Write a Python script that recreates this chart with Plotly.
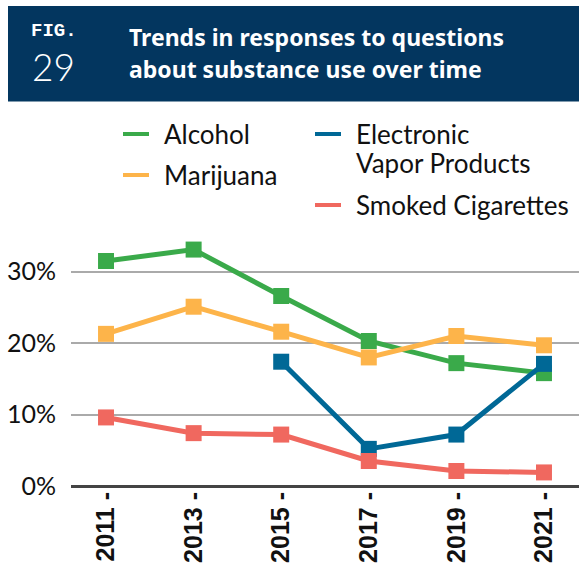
import plotly.graph_objects as go

# Survey years and share of respondents (%) reporting each substance
years = ["2011", "2013", "2015", "2017", "2019", "2021"]
alcohol = [31.5, 33.1, 26.6, 20.3, 17.2, 15.8]
marijuana = [21.3, 25.1, 21.6, 18.0, 21.0, 19.7]
vapor = [None, None, 17.4, 5.2, 7.2, 17.1]
cigarettes = [9.6, 7.4, 7.2, 3.5, 2.1, 1.9]

series_names = ["Alcohol", "Marijuana", "Electronic Vapor Products", "Smoked Cigarettes"]
series_values = [alcohol, marijuana, vapor, cigarettes]
series_colors = ["#3aaa4a", "#fdb44a", "#006896", "#f0685f"]

y_ticks = [0, 10, 20, 30]
y_tick_labels = ["0%", "10%", "20%", "30%"]
x_tick_labels = [f"{y} -" for y in years]

W, H = 579, 581
L, R, T, B = 71, 0, 236, 95
PW, PH = W - L - R, H - T - B


def px(x):
    return (x - L) / PW


def py(y):
    return (H - B - y) / PH


fig = go.Figure()
for name, vals, col in zip(series_names, series_values, series_colors):
    fig.add_trace(go.Scatter(
        x=years, y=vals, name=name, mode="lines+markers",
        line=dict(color=col, width=5),
        marker=dict(symbol="square", size=16, color=col),
        connectgaps=False, showlegend=False, cliponaxis=False,
    ))

navy = "#03365f"
shapes = [
    dict(type="rect", xref="paper", yref="paper",
         x0=px(8), x1=px(579), y0=py(101.5), y1=py(6),
         fillcolor=navy, line=dict(width=0), layer="below"),
]
annotations = [
    dict(text="FIG.", x=px(30), y=py(43), xanchor="left", yanchor="bottom", borderpad=0,
         font=dict(family="Liberation Mono", size=19, color="white", weight="bold")),
    dict(text="29", x=px(31), y=py(43), xanchor="left", yanchor="top", borderpad=0,
         font=dict(family="Lato", size=37, color="white", weight=300)),
    dict(text="Trends in responses to questions", x=px(127), y=py(37), xanchor="left", yanchor="middle",
         font=dict(family="Noto Sans", size=23, color="white", weight="bold")),
    dict(text="about substance use over time", x=px(127), y=py(69), xanchor="left", yanchor="middle",
         font=dict(family="Noto Sans", size=23, color="white", weight="bold")),
]

# Legend drawn as two columns of line swatches and labels
legend_items = [
    (123, 134, ["Alcohol"], series_colors[0]),
    (123, 175, ["Marijuana"], series_colors[1]),
    (315, 134, ["Electronic", "Vapor Products"], series_colors[2]),
    (315, 205, ["Smoked Cigarettes"], series_colors[3]),
]
for x0, yc, lines, col in legend_items:
    shapes.append(dict(type="line", xref="paper", yref="paper",
                       x0=px(x0), x1=px(x0 + 26), y0=py(yc), y1=py(yc),
                       line=dict(color=col, width=4)))
    for i, t in enumerate(lines):
        annotations.append(dict(text=t, x=px(x0 + 39), y=py(yc + 29 * i),
                                xanchor="left", yanchor="middle", showarrow=False,
                                font=dict(family="Lato", size=26, color="#111111")))

for a in annotations:
    a.setdefault("showarrow", False)
    a["xref"] = "paper"
    a["yref"] = "paper"

fig.update_layout(
    width=W, height=H,
    margin=dict(l=L, r=R, t=T, b=B),
    paper_bgcolor="white", plot_bgcolor="white",
    shapes=shapes, annotations=annotations,
    xaxis=dict(
        type="category", range=[-0.4, 5.4],
        tickvals=years, ticktext=x_tick_labels, tickangle=-90,
        tickfont=dict(family="Liberation Sans", size=25, color="#111111", weight="bold"),
        showgrid=False, zeroline=False, showline=False, ticks="",
    ),
    yaxis=dict(
        range=[0, 35], tickvals=y_ticks, ticktext=y_tick_labels,
        tickfont=dict(family="Lato", size=25, color="#111111"),
        showgrid=True, gridcolor="#aaaaaa", gridwidth=2,
        zeroline=True, zerolinecolor="#444444", zerolinewidth=2.5,
        showline=False, ticks="", ticklabelstandoff=14,
    ),
)

fig.write_html("out.html")
